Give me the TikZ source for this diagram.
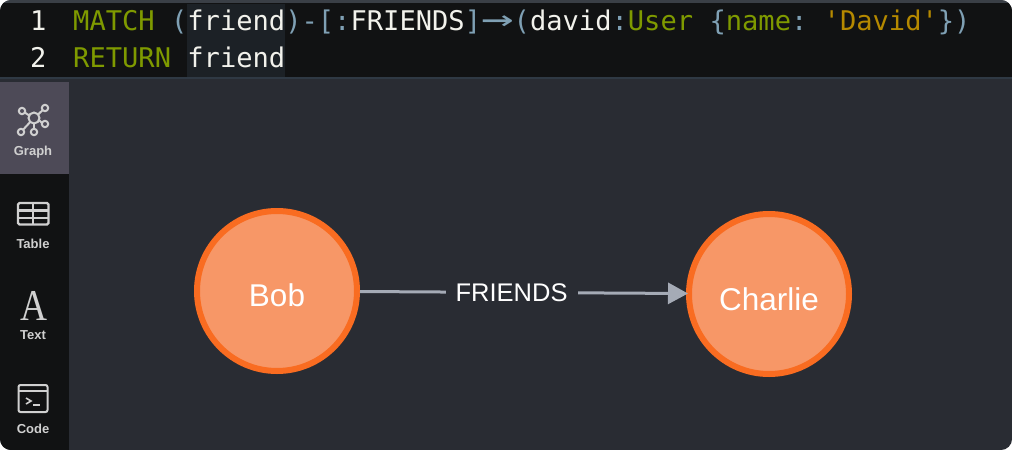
\documentclass[tikz,border=0pt]{standalone}
\usepackage{graphicx}
\usepackage{fontspec}
\setmainfont{Liberation Sans}
\newfontfamily\codefont{DejaVu Sans Mono}
\newfontfamily\serifA{Liberation Serif}
\usetikzlibrary{arrows.meta}
\definecolor{panelbg}{HTML}{292C33}
\definecolor{barbg}{HTML}{111213}
\definecolor{tabsel}{HTML}{4D4A57}
\definecolor{hilite}{HTML}{1C2126}
\definecolor{divider}{HTML}{2F3944}
\definecolor{topline}{HTML}{3A3F46}
\definecolor{kw}{HTML}{7F9A00}
\definecolor{punct}{HTML}{7FA0B4}
\definecolor{strcol}{HTML}{B58900}
\definecolor{codewhite}{HTML}{F2F2EC}
\definecolor{nodefill}{HTML}{F79767}
\definecolor{nodeline}{HTML}{F96C21}
\definecolor{edgecol}{HTML}{A5ABB6}
\definecolor{iconcol}{HTML}{D0D0D0}
\tikzset{
  codeline/.style={anchor=base west,inner sep=0pt,font=\codefont\frenchspacing\fontsize{27.1}{27.1}\selectfont,text=codewhite},
  tablabel/.style={anchor=base,inner sep=0pt,font=\bfseries\fontsize{13}{13}\selectfont,text=iconcol},
  graphnode/.style={circle,draw=nodeline,fill=nodefill,line width=6pt,minimum size=160pt,inner sep=0pt,outer sep=3pt,text=white,font=\fontsize{31.5}{31.5}\selectfont},
  edgeline/.style={draw=edgecol,line width=3pt,-{Triangle[length=20pt,width=21pt]},shorten >=-2pt},
  edgelabel/.style={fill=panelbg,inner sep=0pt,minimum width=132pt,minimum height=30pt,text=white,font=\fontsize{25.5}{25.5}\selectfont},
  icon/.style={draw=iconcol,line width=2pt},
}
\newcommand{\longarrow}{\scalebox{2}[1.25]{→}}
\begin{document}
\begin{tikzpicture}[x=1pt,y=-1pt]
\useasboundingbox (0,0) rectangle (1012,450);
\fill[white] (0,0) rectangle (1012,450);
\begin{scope}
\clip[rounded corners=11pt] (0,0) rectangle (1012,450);
\fill[panelbg] (0,0) rectangle (1012,450);
\fill[topline] (0,0) rectangle (1012,3);
\fill[barbg] (0,3) rectangle (1012,77);
\fill[divider] (0,77) rectangle (1012,79);
\fill[hilite] (187,4) rectangle (285,77);
\fill[barbg] (0,174) rectangle (69,450);
\fill[tabsel] (0,82) rectangle (69,174);
\end{scope}

\node[codeline] (num1) at (30,30) {1};
\node[codeline] (num2) at (30,67) {2};
\node[codeline] (line1) at (73,30) {\textcolor{kw}{MATCH} \textcolor{punct}{(}friend\textcolor{punct}{)-[:}FRIENDS\textcolor{punct}{]\longarrow(}david\textcolor{punct}{:}\textcolor{kw}{User} \textcolor{punct}{\{}\textcolor{kw}{name}\textcolor{punct}{:} \textcolor{strcol}{'David'}\textcolor{punct}{\})}};
\node[codeline] (line2) at (73,67) {\textcolor{kw}{RETURN} friend};

% Graph icon
\draw[icon] (34,118) circle (5.5);
\foreach \p in {(22,111),(45,108),(45,124),(34,132),(21,132)} \draw[icon] \p circle (3.2);
\draw[icon] (24.8,112.6) -- (29.2,115.4);
\draw[icon] (42.6,110.1) -- (38.2,114.4);
\draw[icon] (42,123) -- (39.2,120.3);
\draw[icon] (34,128.8) -- (34,123.5);
\draw[icon] (23.2,129.6) -- (30.2,122);
\node[tablabel] (tgraph) at (33,155) {Graph};

% Table icon
\draw[icon,line width=2.4pt,rounded corners=1.5pt] (18,203) rectangle (48.5,224.5);
\draw[icon,line width=2.4pt] (18,210.5) -- (48.5,210.5) (18,218) -- (48.5,218) (33.2,203) -- (33.2,224.5);
\node[tablabel] (ttable) at (33,248) {Table};

% Text icon
\node[anchor=base,inner sep=0pt,text=iconcol,font=\serifA\fontsize{44}{44}\selectfont,xscale=.85] (glyphA) at (34,320) {A};
\node[tablabel] (ttext) at (33,339) {Text};

% Code icon
\draw[icon,rounded corners=2pt] (18.5,385) rectangle (47.5,412);
\draw[icon] (18.5,391) -- (47.5,391);
\draw[icon,line width=1.6pt] (26,398) -- (31,401) -- (26,404);
\draw[icon,line width=1.6pt] (33,405) -- (40,405);
\node[tablabel] (tcode) at (33,433) {Code};

% Graph
\node[graphnode] (bob) at (277,291) {\raisebox{-15.5pt}[0pt][0pt]{Bob}};
\node[graphnode] (charlie) at (769,294) {\raisebox{-16pt}[0pt][0pt]{Charlie}};
\draw[edgeline] (bob) -- node[edgelabel,pos=.465] (friends) {FRIENDS} (charlie);
\end{tikzpicture}
\end{document}
